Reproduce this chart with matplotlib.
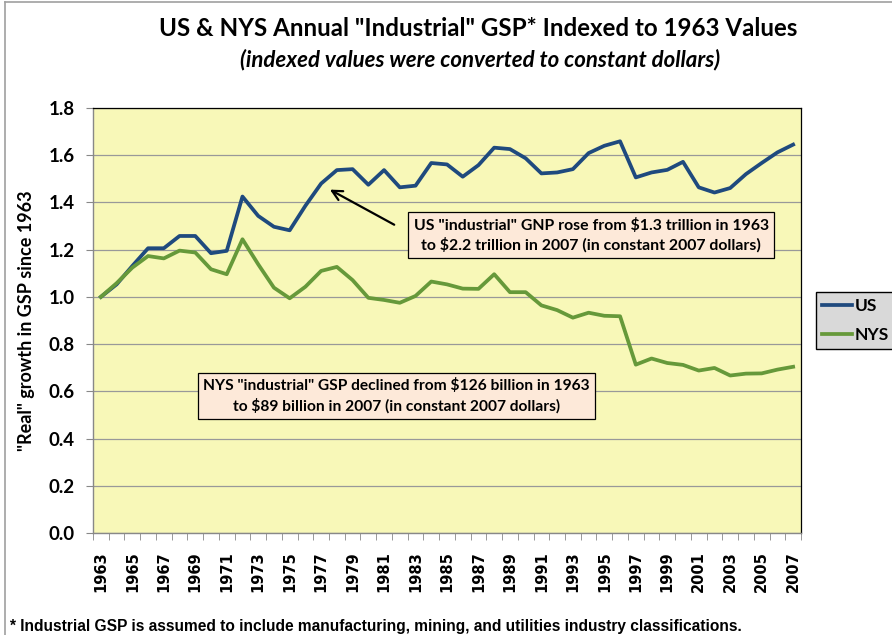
import matplotlib.pyplot as plt
from matplotlib.lines import Line2D
from matplotlib.ticker import MultipleLocator

years = list(range(1963, 2008))
us = [1.00, 1.053, 1.131, 1.206, 1.206, 1.258, 1.258, 1.185, 1.195, 1.425,
      1.343, 1.297, 1.282, 1.386, 1.480, 1.537, 1.541, 1.475, 1.537, 1.464,
      1.471, 1.567, 1.561, 1.509, 1.558, 1.632, 1.626, 1.587, 1.523, 1.527,
      1.541, 1.609, 1.640, 1.659, 1.506, 1.527, 1.538, 1.572, 1.464, 1.442,
      1.461, 1.520, 1.567, 1.612, 1.645]
nys = [1.00, 1.058, 1.124, 1.173, 1.163, 1.196, 1.188, 1.117, 1.096, 1.244,
       1.138, 1.039, 0.994, 1.043, 1.110, 1.127, 1.071, 0.996, 0.987, 0.975,
       1.004, 1.065, 1.053, 1.035, 1.034, 1.096, 1.020, 1.020, 0.964, 0.944,
       0.912, 0.933, 0.920, 0.918, 0.713, 0.739, 0.720, 0.712, 0.688, 0.699,
       0.667, 0.675, 0.676, 0.692, 0.704]

title = 'US & NYS Annual "Industrial" GSP* Indexed to 1963 Values'
subtitle = '(indexed values were converted to constant dollars)'
us_note = ('US "industrial" GNP rose from $1.3 trillion in 1963\n'
           'to $2.2 trillion in 2007 (in constant 2007 dollars)')
nys_note = ('NYS "industrial" GSP declined from $126 billion in 1963\n'
            'to $89 billion in 2007 (in constant 2007 dollars)')
footnote = ('* Industrial GSP is assumed to include manufacturing, mining, '
            'and utilities industry classifications.')

calibri = ['Lato', 'DejaVu Sans']

fig = plt.figure(figsize=(8.92, 6.35), dpi=100)
ax = fig.add_axes([93 / 892, 102 / 635, 708 / 892, 425 / 635])
ax.set_facecolor('#F8F8B8')

ax.plot(years, us, color='#1F4A7E', lw=2.7, label='US', solid_joinstyle='round', zorder=3)
ax.plot(years, nys, color='#66993A', lw=2.7, label='NYS', solid_joinstyle='round', zorder=3)

ax.set_xlim(1962.5, 2007.5)
ax.set_ylim(0, 1.8)
ax.yaxis.set_major_locator(MultipleLocator(0.2))
ax.set_yticklabels([f'{v:.1f}' for v in ax.get_yticks()], fontfamily=calibri,
                   fontweight='bold', fontsize=13.5)
ax.grid(axis='y', color='#999999', lw=0.9)
ax.set_axisbelow(True)

ax.set_xticks(years[::2])
ax.set_xticklabels([str(y) for y in years[::2]], rotation=90, fontweight='bold',
                   fontsize=10.5, fontfamily='DejaVu Sans')
ax.set_xticks([y - 0.5 for y in years] + [2007.5], minor=True)
ax.tick_params(axis='x', which='major', length=0, pad=13)
ax.tick_params(axis='x', which='minor', length=5, color='#888888', direction='out')
ax.tick_params(axis='y', length=5, color='#888888', direction='out', pad=8)

for s in ['top', 'right']:
    ax.spines[s].set_color('black')
    ax.spines[s].set_linewidth(0.9)
for s in ['left', 'bottom']:
    ax.spines[s].set_color('#888888')
    ax.spines[s].set_linewidth(1.0)

ax.set_ylabel('"Real" growth in GSP since 1963', fontfamily=calibri,
              fontweight='bold', fontsize=13, labelpad=10)

# annotations
box = dict(boxstyle='square,pad=0.35', facecolor='#FDE9D9', edgecolor='black', lw=0.9)
ax.text(1994.17, 1.262, us_note, ha='center', va='center', fontfamily=calibri,
        fontweight='bold', fontsize=11.4, bbox=box, linespacing=1.35, zorder=4)
ax.text(1981.8, 0.582, nys_note, ha='center', va='center', fontfamily=calibri,
        fontweight='bold', fontsize=11.2, bbox=box, linespacing=1.38, zorder=4)
ax.annotate('', xy=(1977.4, 1.46), xytext=(1981.8, 1.30),
            arrowprops=dict(arrowstyle='->', color='black', lw=1.6, mutation_scale=18),
            zorder=5)

fig.legend(loc='upper left', bbox_to_anchor=(816 / 892, 1 - 292 / 635),
           prop=dict(family=calibri, weight='bold', size=12.5),
           facecolor='#D9D9D9', edgecolor='black', fancybox=False, framealpha=1,
           borderaxespad=0, handlelength=1.75, handletextpad=0.15, borderpad=0.35,
           labelspacing=0.75)

fig.text(478 / 892, 1 - 29 / 635, title, ha='center', va='center',
         fontfamily=calibri, fontweight='bold', fontsize=17.4)
fig.text(480 / 892, 1 - 60 / 635, subtitle, ha='center', va='center',
         fontfamily=calibri, fontweight='bold', fontstyle='italic', fontsize=16)
fig.text(10 / 892, 1 - 627 / 635, footnote, ha='left', va='center',
         fontfamily=['Liberation Sans', 'DejaVu Sans'], fontweight='bold',
         fontsize=11.2)

# outer chart border (only left and top are inside the picture)
fig.add_artist(Line2D([5 / 892, 5 / 892], [0, 1 - 2 / 635], color='#A0A0A0', lw=1.2))
fig.add_artist(Line2D([5 / 892, 1], [1 - 2 / 635, 1 - 2 / 635], color='#A0A0A0', lw=1.2))

fig.savefig('out.png', dpi=100)
